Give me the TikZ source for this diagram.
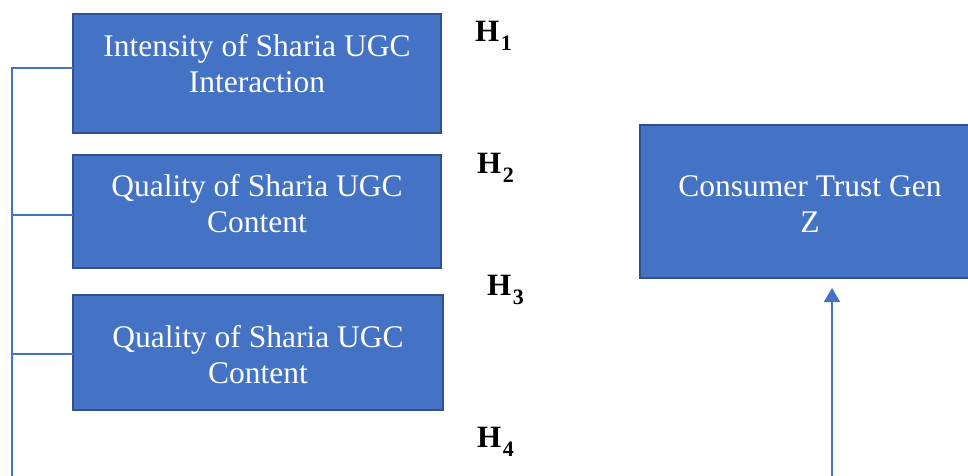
\documentclass[tikz,border=0pt]{standalone}
\usepackage{fontspec}
\setmainfont{Liberation Serif}
\usetikzlibrary{arrows.meta}
\definecolor{boxfill}{HTML}{4472C4}
\definecolor{boxedge}{HTML}{2F528F}
\newcommand{\hsub}[1]{H\kern1.5pt\raisebox{-9pt}{\fontsize{22}{22}\selectfont #1}}
\begin{document}
\begin{tikzpicture}[x=1pt,y=-1pt,
  box/.style={draw=boxedge,fill=boxfill,line width=2pt},
  boxtext/.style={text=white,font=\fontsize{31.5}{36}\selectfont,align=center,inner sep=0pt},
  hlabel/.style={font=\fontsize{31}{31}\selectfont\bfseries,inner sep=0pt,anchor=base west},
  conn/.style={draw=boxfill,line width=2pt}]
\useasboundingbox (0,0) rectangle (968,475);
\fill[white] (0,0) rectangle (968,475);
% boxes
\draw[box] (73,14) rectangle (441,133);
\node[boxtext] (t1) at (257,64) {Intensity of Sharia UGC\\Interaction};
\draw[box] (73,155) rectangle (441,268);
\node[boxtext] (t2) at (257,204) {Quality of Sharia UGC\\Content};
\draw[box] (73,295) rectangle (443,410);
\node[boxtext] (t3) at (258,355) {Quality of Sharia UGC\\Content};
\draw[box] (640,125) rectangle (975,278);
\node[boxtext] (t4) at (810,204) {Consumer Trust Gen\\Z};
% coordinates
\coordinate (b1) at (73,68);
\coordinate (b2) at (73,215);
\coordinate (b3) at (73,354);
\coordinate (l1) at (12,68);
\coordinate (l2) at (12,215);
\coordinate (l3) at (12,354);
\coordinate (lb) at (12,476);
\coordinate (ab) at (832,476);
\coordinate (at) at (832,288);
% connectors
\draw[conn] (b1) -- (l1) -- (lb);
\draw[conn] (l2) -- (b2);
\draw[conn] (l3) -- (b3);
\draw[conn,-{Triangle[width=16pt,length=14pt]}] (ab) -- (at);
% labels
\node[hlabel] (h1) at (475,41) {\hsub{1}};
\node[hlabel] (h2) at (477,173) {\hsub{2}};
\node[hlabel] (h3) at (487,295) {\hsub{3}};
\node[hlabel] (h4) at (477,447) {\hsub{4}};
\end{tikzpicture}
\end{document}
